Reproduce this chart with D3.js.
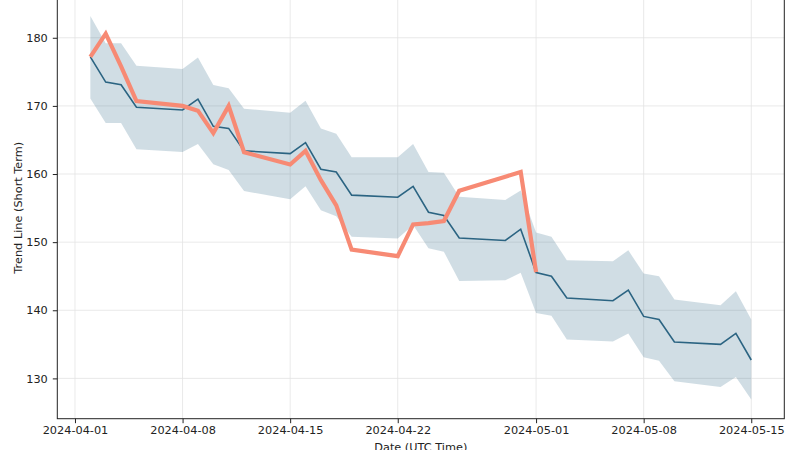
<!DOCTYPE html>
<html>
<head>
<meta charset="utf-8">
<script src="https://cdn.jsdelivr.net/npm/d3@7"></script>
<style>
  html, body { margin: 0; padding: 0; background: #fff; }
  svg { display: block; font-family: "DejaVu Sans", sans-serif; }
  .tick text { fill: #222; font-size: 11.3px; font-family: "DejaVu Sans", sans-serif; }
  .tick line { stroke: #222; }
  .grid line { stroke: #e3e3e3; stroke-width: 0.8; }
</style>
</head>
<body>
<svg id="chart" width="800" height="450"></svg>
<script>
  const DATES = ["2024-04-02","2024-04-03","2024-04-04","2024-04-05","2024-04-08","2024-04-09",
                 "2024-04-10","2024-04-11","2024-04-12","2024-04-15","2024-04-16","2024-04-17",
                 "2024-04-18","2024-04-19","2024-04-22","2024-04-23","2024-04-24","2024-04-25",
                 "2024-04-26","2024-04-29","2024-04-30","2024-05-01","2024-05-02","2024-05-03",
                 "2024-05-06","2024-05-07","2024-05-08","2024-05-09","2024-05-10","2024-05-13",
                 "2024-05-14","2024-05-15"];

  // short term trend line
  const TREND = [177.2, 173.5, 173.1, 169.8, 169.4, 171.0, 167.0, 166.7, 163.4, 163.0, 164.6, 160.7,
                 160.3, 156.9, 156.6, 158.2, 154.4, 153.9, 150.6, 150.25, 151.9, 145.55, 145.0, 141.8,
                 141.4, 142.95, 139.1, 138.65, 135.35, 135.0, 136.6, 132.7];
  const UPPER = [183.2, 179.2, 179.2, 175.9, 175.4, 177.1, 173.05, 172.6, 169.6, 169.0, 170.75, 166.7,
                 165.9, 162.45, 162.45, 164.4, 160.3, 160.2, 156.65, 156.2, 157.6, 151.4, 150.8, 147.35,
                 147.2, 148.8, 145.4, 145.0, 141.6, 140.75, 142.8, 138.65];
  const LOWER = [171.1, 167.5, 167.5, 163.65, 163.25, 164.4, 161.45, 160.6, 157.5, 156.3, 158.2, 154.7,
                 153.8, 150.8, 150.55, 152.5, 149.1, 148.6, 144.3, 144.4, 145.5, 139.6, 139.2, 135.7,
                 135.4, 136.6, 133.1, 132.6, 129.6, 128.75, 130.2, 126.9];
  // actual values, only up to 2024-05-01
  const ACTUAL = [177.2, 180.6, 175.8, 170.7, 170.0, 169.3, 166.0, 170.0, 163.2, 161.4, 163.4, 159.1,
                  155.4, 148.9, 147.95, 152.6, 152.8, 153.1, 157.55, 159.6, 160.3, 145.6];

  const X_TICKS = ["2024-04-01","2024-04-08","2024-04-15","2024-04-22","2024-05-01","2024-05-08","2024-05-15"];
  const Y_TICKS = [130, 140, 150, 160, 170, 180];

  const LINE_COLOR = "#2b6482";
  const ACTUAL_COLOR = "#f78a74";

  const plot = { left: 57.3, right: 784.3, top: -3.2, bottom: 418.7 };
  const parse = d3.utcParse("%Y-%m-%d");
  const dates = DATES.map(parse);

  const rows = dates.map((d, i) => ({ date: d, trend: TREND[i], hi: UPPER[i], lo: LOWER[i], actual: ACTUAL[i] }));

  // matplotlib style 5% margins
  const t0 = dates[0], t1 = dates[dates.length - 1];
  const tPad = (t1 - t0) * 0.05;
  const x = d3.scaleUtc()
    .domain([new Date(+t0 - tPad), new Date(+t1 + tPad)])
    .range([plot.left, plot.right]);

  const yMin = d3.min(LOWER), yMax = d3.max(UPPER);
  const yPad = (yMax - yMin) * 0.05;
  const y = d3.scaleLinear()
    .domain([yMin - yPad, yMax + yPad])
    .range([plot.bottom, plot.top]);

  const svg = d3.select("#chart");
  const w = plot.right - plot.left, h = plot.bottom - plot.top;

  // grid
  svg.append("g").attr("class", "grid")
    .selectAll("line").data(X_TICKS.map(parse)).join("line")
    .attr("x1", d => x(d)).attr("x2", d => x(d))
    .attr("y1", plot.top).attr("y2", plot.bottom);
  svg.append("g").attr("class", "grid")
    .selectAll("line").data(Y_TICKS).join("line")
    .attr("x1", plot.left).attr("x2", plot.right)
    .attr("y1", d => y(d)).attr("y2", d => y(d));

  // confidence band
  const area = d3.area().x(d => x(d.date)).y0(d => y(d.lo)).y1(d => y(d.hi));
  svg.append("path").datum(rows)
    .attr("d", area).attr("fill", LINE_COLOR).attr("fill-opacity", 0.22);

  const trendLine = d3.line().x(d => x(d.date)).y(d => y(d.trend));
  svg.append("path").datum(rows)
    .attr("d", trendLine).attr("fill", "none")
    .attr("stroke", LINE_COLOR).attr("stroke-width", 1.6);

  const actualLine = d3.line().x(d => x(d.date)).y(d => y(d.actual));
  svg.append("path").datum(rows.filter(d => d.actual !== undefined))
    .attr("d", actualLine).attr("fill", "none")
    .attr("stroke", ACTUAL_COLOR).attr("stroke-width", 4.2).attr("stroke-linejoin", "miter");

  // axes
  svg.append("g").attr("transform", `translate(0,${plot.bottom})`)
    .call(d3.axisBottom(x).tickValues(X_TICKS.map(parse)).tickFormat(d3.utcFormat("%Y-%m-%d"))
      .tickSize(4.5).tickPadding(3))
    .call(g => g.select(".domain").remove());
  svg.append("g").attr("transform", `translate(${plot.left},0)`)
    .call(d3.axisLeft(y).tickValues(Y_TICKS).tickFormat(d3.format("d"))
      .tickSize(4.5).tickPadding(5))
    .call(g => g.select(".domain").remove());

  svg.append("rect")
    .attr("x", plot.left).attr("y", plot.top).attr("width", w).attr("height", h)
    .attr("fill", "none").attr("stroke", "#222").attr("stroke-width", 1);

  svg.append("text")
    .attr("x", (plot.left + plot.right) / 2).attr("y", 451)
    .attr("text-anchor", "middle").style("font-size", "11.3px").attr("fill", "#222")
    .text("Date (UTC Time)");
  svg.append("text")
    .attr("transform", `translate(21.5,${(plot.top + plot.bottom) / 2}) rotate(-90)`)
    .attr("text-anchor", "middle").style("font-size", "11.3px").attr("fill", "#222")
    .text("Trend Line (Short Term)");
</script>
</body>
</html>
